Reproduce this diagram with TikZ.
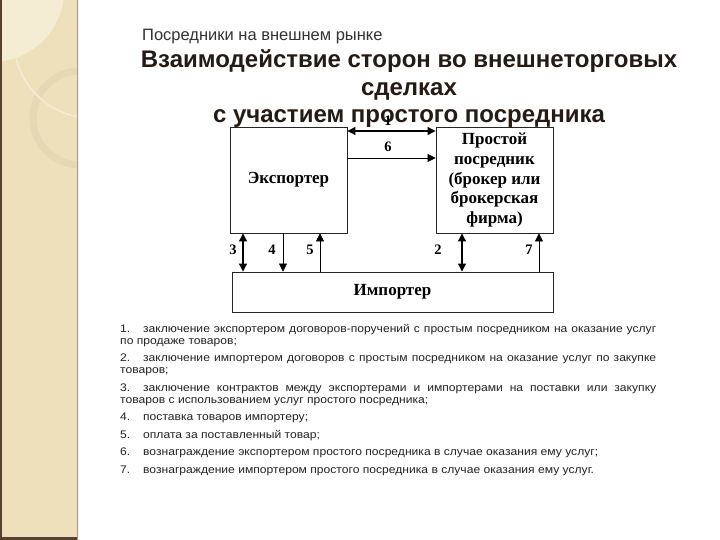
\documentclass[tikz,border=0pt]{standalone}
\usepackage{fontspec}
\setmainfont{Liberation Sans}
\newfontfamily\boxfont{Liberation Serif}
\newfontfamily\legfont[FakeStretch=1.1]{Liberation Sans}
\usetikzlibrary{arrows.meta,positioning,calc}

\definecolor{bandbeige}{RGB}{237,224,187}
\definecolor{bandlight}{RGB}{245,236,212}
\definecolor{bandring}{RGB}{228,216,181}
\definecolor{banddark}{RGB}{86,66,46}
\definecolor{bandedge}{RGB}{170,156,136}
\definecolor{titlebrown}{RGB}{38,26,20}
\definecolor{listgrey}{RGB}{35,35,35}

\newcommand\legitem[1]{\makebox[23pt][l]{#1}}

\begin{document}
\begin{tikzpicture}[x=1pt, y=-1pt,
    party/.style={rectangle, draw=black!85, line width=0.9pt, align=center, inner sep=1pt,
        font=\boxfont\bfseries\fontsize{17}{19.8}\selectfont},
    num/.style={inner sep=0pt, font=\boxfont\bfseries\fontsize{14.5}{14.5}\selectfont},
    flow/.style={-{Triangle[length=8pt,width=8pt]}, line width=0.5pt},
    dflow/.style={{Triangle[length=8pt,width=8pt]}-{Triangle[length=8pt,width=8pt]}, line width=1.1pt}
]
\useasboundingbox (0,0) rectangle (720,540);
\fill[white] (0,0) rectangle (720,540);

% left band
\begin{scope}
    \clip (0,0) rectangle (78,540);
    \fill[bandbeige] (0,0) rectangle (78,540);
    \fill[bandlight] (-8,-10) circle (72pt);
    \draw[bandring, line width=7pt] (80,118) circle (47pt);
    \draw[bandlight, line width=1.5pt] (92,40) circle (78pt);
    \fill[banddark] (0,0) rectangle (2,540);
    \fill[banddark] (0,537) rectangle (78,540);
    \fill[bandedge] (77,0) rectangle (79,540);
\end{scope}

% titles
\node[anchor=base west, inner sep=0pt, text=black!80, font=\fontsize{16.5}{16.5}\selectfont] (sub) at (142,41) {Посредники на внешнем рынке};
\node[anchor=base, align=center, text=titlebrown, font=\bfseries\fontsize{24}{27.5}\selectfont] (title) at (409,123)
    {Взаимодействие сторон во внешнеторговых\\сделках\\с участием простого посредника};

% parties
\node[party, minimum width=117pt, minimum height=106pt] (exp) at (288.5,180) {\raisebox{5pt}{Экспортер}};
\node[party, minimum width=117pt, minimum height=106pt] (brk) at (494.5,180)
    {Простой\\посредник\\(брокер или\\брокерская\\фирма)};
\node[party, minimum width=321pt, minimum height=40pt] (imp) at (392.5,292) {Импортер};

\coordinate (r1) at (0,131);
\coordinate (r6) at (0,158);
\coordinate (c3) at (243,0);
\coordinate (c4) at (283,0);
\coordinate (c5) at (320,0);
\coordinate (c2) at (462,0);
\coordinate (c7) at (539,0);

\draw[dflow] (exp.east |- r1) -- (brk.west |- r1);
\draw[flow] (exp.east |- r6) -- (brk.west |- r6);
\draw[dflow] (exp.south -| c3) -- (imp.north -| c3);
\draw[flow] (exp.south -| c4) -- (imp.north -| c4);
\draw[flow] (imp.north -| c5) -- (exp.south -| c5);
\draw[dflow] (brk.south -| c2) -- (imp.north -| c2);
\draw[flow] (imp.north -| c7) -- (brk.south -| c7);

\node[num] (n1) at (388,121) {1};
\node[num] (n6) at (388,147) {6};
\node[num] (n3) at (233,250) {3};
\node[num] (n4) at (272,250) {4};
\node[num] (n5) at (310,250) {5};
\node[num] (n2) at (438,250) {2};
\node[num] (n7) at (529,250) {7};

% legend
\node[anchor=north west, inner sep=0pt, text width=536pt, align=justify, text=listgrey,
    font=\legfont\fontsize{11}{12}\selectfont] (legend) at (120,324) {%
    \setlength{\parskip}{5.5pt}%
    \legitem{1.}заключение экспортером договоров-поручений с простым посредником на оказание услуг по продаже товаров;\par
    \legitem{2.}заключение импортером договоров с простым посредником на оказание услуг по закупке товаров;\par
    \legitem{3.}заключение контрактов между экспортерами и импортерами на поставки или закупку товаров с использованием услуг простого посредника;\par
    \legitem{4.}поставка товаров импортеру;\par
    \legitem{5.}оплата за поставленный товар;\par
    \legitem{6.}вознаграждение экспортером простого посредника в случае оказания ему услуг;\par
    \legitem{7.}вознаграждение импортером простого посредника в случае оказания ему услуг.};
\end{tikzpicture}
\end{document}
